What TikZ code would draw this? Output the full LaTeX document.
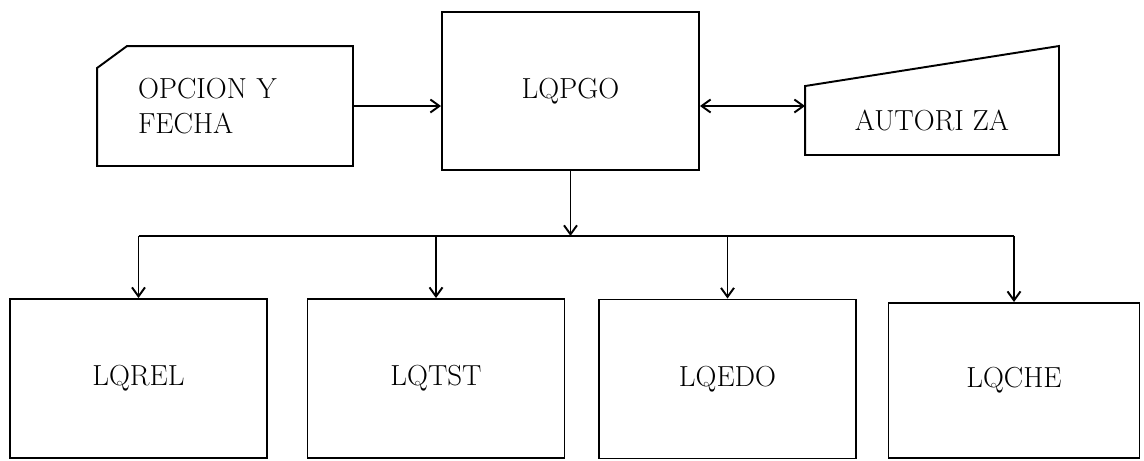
\documentclass[tikz,border=0pt]{standalone}
\usepackage{tikz}
\usetikzlibrary{arrows.meta,calc}

\begin{document}
\begin{tikzpicture}[>={Straight Barb[length=1.8mm,width=2.6mm]}, line width=1.1pt,
    every node/.style={font=\fontsize{16.5}{20}\selectfont},
    prog/.style={draw,minimum width=5.14cm,minimum height=3.18cm}]
        \useasboundingbox (0,0) rectangle (22.88,-9.2);
        \node[prog,minimum height=3.16cm] (lqpgo) at (11.41,-1.82) {LQPGO};
        \node[text width=3.48cm,inner xsep=0.8cm,minimum height=2.36cm,align=left] (opc) at (4.5,-2.12) {OPCION Y\\FECHA};
        \node[minimum width=5.04cm,minimum height=1.34cm] (aut) at (18.64,-2.41) {AUTORI ZA};
        \node[prog] (lqrel) at (2.77,-7.57) {LQREL};
        \node[prog] (lqtst) at (8.72,-7.57) {LQTST};
        \node[prog] (lqedo) at (14.55,-7.58) {LQEDO};
        \node[prog,minimum width=5.02cm,minimum height=3.1cm] (lqche) at (20.28,-7.61) {LQCHE};
        % tarjeta y entrada manual
        \draw ($(opc.north west)+(0.6,0)$) -- (opc.north east) -- (opc.south east) -- (opc.south west) -- ($(opc.north west)+(0,-0.44)$) -- cycle;
        \draw (aut.south west) -- (aut.north west) -- ($(aut.north east)+(0,0.8)$) -- (aut.south east) -- cycle;
        \draw[->] (opc.east) -- (opc.east -| lqpgo.west);
        \draw[<->] (lqpgo.east |- opc.east) -- (aut.west |- opc.east);
        % reparto hacia los modulos
        \coordinate (bus) at ($(lqpgo.south)+(0,-1.3)$);
        \draw[->] (lqpgo.south) -- (bus);
        \draw (lqrel.north |- bus) -- (lqche.north |- bus);
        \foreach \m in {lqrel,lqtst,lqedo,lqche}
          \draw[->] (\m.north |- bus) -- (\m.north);
      \end{tikzpicture}
\end{document}
